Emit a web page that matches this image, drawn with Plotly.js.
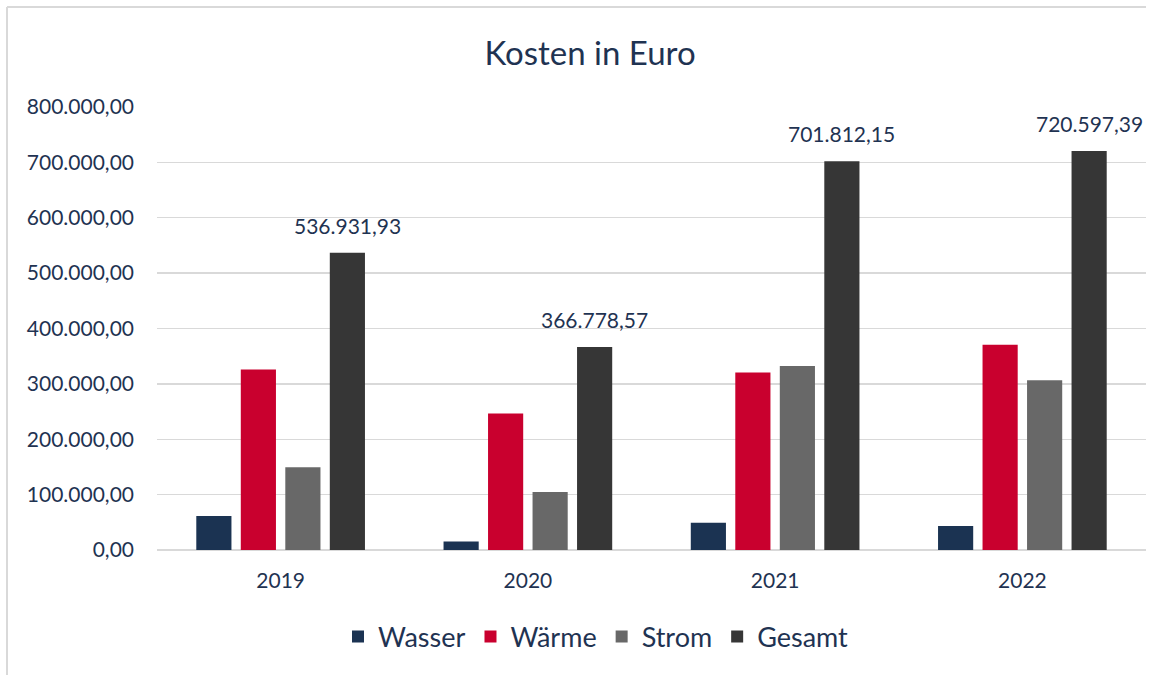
<!DOCTYPE html>
<html>
<head>
<meta charset="utf-8">
<script src="https://cdn.plot.ly/plotly-3.0.1.min.js"></script>
<style>html,body{margin:0;padding:0;background:#fff;}#chart{width:1168px;height:675px;}</style>
</head>
<body>
<div id="chart"></div>
<script>
const years = ['2019', '2020', '2021', '2022'];
const wasser = [61500, 15500, 49000, 43500];
const waerme = [326000, 246500, 320500, 370500];
const strom = [149400, 104800, 332300, 306600];
const gesamt = [536931.93, 366778.57, 701812.15, 720597.39];
const seriesNames = ['Wasser', 'Wärme', 'Strom', 'Gesamt'];
const seriesColors = ['#1b3352', '#c9002e', '#686868', '#363636'];
const yTicks = [0, 100000, 200000, 300000, 400000, 500000, 600000, 700000, 800000];

function fmtDE(v) {
  const parts = v.toFixed(2).split('.');
  parts[0] = parts[0].replace(/\B(?=(\d{3})+(?!\d))/g, '.');
  return parts[0] + ',' + parts[1];
}

const textColor = '#1f3352';
const fontFam = 'Lato, "Open Sans", sans-serif';
const W = 1168, H = 675;
const M = {l: 157, r: 22, t: 107, b: 125};
const plotW = W - M.l - M.r;
const plotH = H - M.t - M.b;
const bargap = 0.28;

const seriesValues = [wasser, waerme, strom, gesamt];
const traces = seriesNames.map((n, i) => ({
  type: 'bar',
  name: n,
  x: years,
  y: seriesValues[i],
  marker: {color: seriesColors[i]},
  hoverinfo: 'none'
}));

const slot = (1 - bargap) * (plotW / years.length) / seriesNames.length;
const annotations = years.map((yr, i) => ({
  x: i, y: gesamt[i], xref: 'x', yref: 'y',
  text: fmtDE(gesamt[i]),
  showarrow: false,
  xanchor: 'center', yanchor: 'bottom',
  xshift: 1.5 * slot, yshift: 13,
  font: {family: fontFam, size: 21, color: textColor}
}));

function px2x(p) { return (p - M.l) / plotW; }
function py2y(p) { return (H - M.b - p) / plotH; }

const shapes = [
  {type: 'line', xref: 'paper', yref: 'paper', x0: px2x(7), x1: px2x(7), y0: py2y(7), y1: py2y(676), line: {color: '#d9d9d9', width: 2}},
  {type: 'line', xref: 'paper', yref: 'paper', x0: px2x(7), x1: px2x(1146), y0: py2y(7), y1: py2y(7), line: {color: '#d9d9d9', width: 2}}
];

const layout = {
  width: W, height: H,
  margin: M,
  paper_bgcolor: '#ffffff',
  plot_bgcolor: '#ffffff',
  separators: ',.',
  barmode: 'group',
  bargap: bargap,
  bargroupgap: 0.21,
  showlegend: true,
  title: {
    text: 'Kosten in Euro',
    x: 590 / W, xanchor: 'center', xref: 'container',
    y: 1 - 53 / H, yanchor: 'middle', yref: 'container',
    font: {family: fontFam, size: 33, color: textColor}
  },
  xaxis: {
    type: 'category',
    range: [-0.5, years.length - 0.5],
    showgrid: false,
    showline: false,
    zeroline: false,
    ticks: '',
    ticklabelstandoff: 16,
    tickfont: {family: fontFam, size: 21, color: textColor}
  },
  yaxis: {
    range: [0, 800000],
    tickvals: yTicks,
    tickformat: ',.2f',
    showgrid: true,
    gridcolor: '#d9d9d9',
    gridwidth: 1.4,
    zeroline: true,
    zerolinecolor: '#d9d9d9',
    zerolinewidth: 1.4,
    showline: false,
    ticks: '',
    ticklabelstandoff: 22,
    tickfont: {family: fontFam, size: 21, color: textColor}
  },
  legend: {
    orientation: 'h',
    x: px2x(596), xanchor: 'center',
    y: py2y(637), yanchor: 'middle',
    font: {family: fontFam, size: 27, color: textColor},
    itemwidth: 30,
    traceorder: 'normal'
  },
  annotations: annotations,
  shapes: shapes
};

Plotly.newPlot('chart', traces, layout, {displayModeBar: false, staticPlot: true});
</script>
</body>
</html>
